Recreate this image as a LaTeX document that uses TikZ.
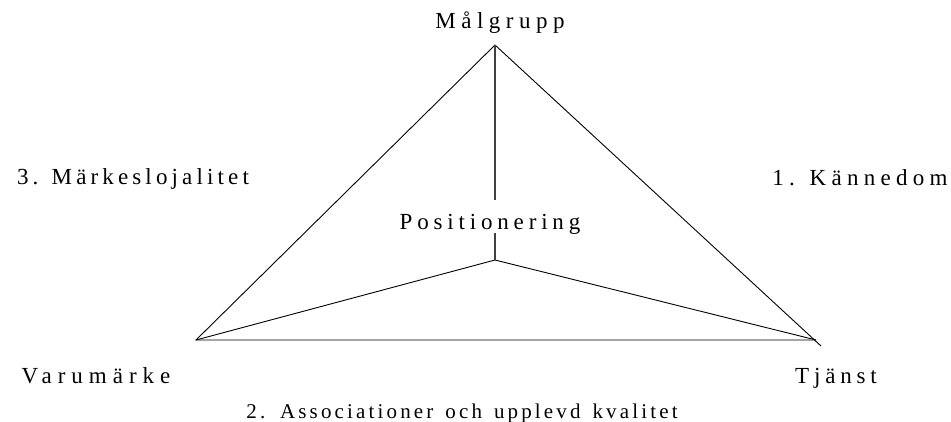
\documentclass[tikz,border=0pt]{standalone}
\usepackage{fontspec}
\setmainfont{Liberation Serif}
\newcommand\spacedtext[2]{{\addfontfeature{LetterSpace=#1}#2}}
\newcommand\widegaps{\spaceskip 12pt\relax}
\begin{document}
\begin{tikzpicture}[x=1pt,y=-1pt,
  lbl/.style={inner sep=0pt, anchor=base, font=\fontsize{23}{27}\selectfont},
  small/.style={lbl, font=\fontsize{21}{25}\selectfont},
  edge/.style={line width=0.9pt, line join=miter},
  stem/.style={line width=1.3pt, draw=black!75}]
\useasboundingbox (0,0) rectangle (951,422);

% corners of the triangle and its centre
\coordinate (apex) at (495,45);
\coordinate (vl) at (196,340);
\coordinate (vr) at (816,340);
\coordinate (vrx) at (821,346);
\coordinate (mid) at (495,260);

% labels
\node[lbl] (mal) at (500,29) {\spacedtext{24}{Målgrupp}};
\node[lbl, text height=30pt, text depth=3pt] (pos) at (490,230) {\spacedtext{21}{Positionering}};
\node[lbl] (lojal) at (133,185) {\spacedtext{18}{3. Märkeslojalitet}};
\node[lbl] (kann) at (860,186) {\spacedtext{23}{1. Kännedom}};
\node[lbl] (varu) at (96,383) {\spacedtext{26}{Varumärke}};
\node[lbl] (tjanst) at (836,383) {\spacedtext{21}{Tjänst}};
\node[small] (assoc) at (462,418) {\spacedtext{15}{\widegaps 2. Associationer och upplevd kvalitet}};

% triangle
\draw[edge] (apex) -- (vl) -- (vr);
\draw[edge] (apex) -- (vrx);
\draw[edge] (vl) -- (mid) -- (vr);

% stem from the top corner through the centre label
\draw[stem] (apex) -- (apex |- pos.north);
\draw[stem] (apex |- pos.south) -- (mid);
\end{tikzpicture}
\end{document}
